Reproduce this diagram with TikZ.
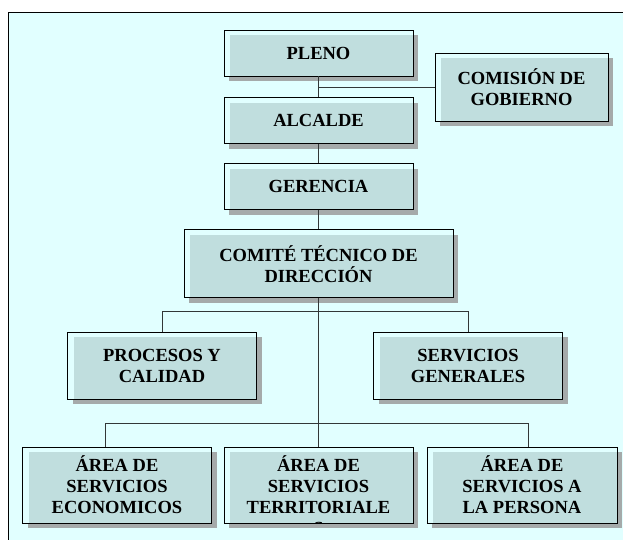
\documentclass[tikz,border=0pt]{standalone}
\usepackage{fontspec}
\setmainfont{Liberation Serif}
\usepackage{tikz}
\usetikzlibrary{positioning}

\definecolor{bgcyan}{RGB}{225,255,255}
\definecolor{boxteal}{RGB}{192,222,222}
\definecolor{shadowgray}{RGB}{165,170,170}
\definecolor{linegray}{RGB}{50,55,55}

\begin{document}
\begin{tikzpicture}
          [x=1pt, y=1pt,
           orgbox/.style={draw=black, line width=0.9pt, fill=bgcyan,
             inner sep=0pt, align=center,
             font=\fontsize{18.5}{21}\selectfont\bfseries,
             minimum width=189pt, minimum height=46pt,
             preaction={fill=shadowgray, transform canvas={xshift=5pt, yshift=-5pt}},
             path picture={\fill[boxteal] ([xshift=6pt, yshift=-5pt]path picture bounding box.north west)
               rectangle (path picture bounding box.south east);}},
           link/.style={draw=linegray, line width=0.9pt}]
          \useasboundingbox (0,0) rectangle (623,540);
          \fill[bgcyan] (8,0) rectangle (623,528);
          \draw[line width=0.9pt] (8,0) -- (8,528) -- (623,528);

          \node (pleno) [orgbox] at (318.5,487) {PLENO};
          \node (alcalde) [orgbox, below = 21pt of pleno] {ALCALDE};
          \node (gerencia) [orgbox, below = 19pt of alcalde] {GERENCIA};
          \node (comite) [orgbox, minimum width=269pt, minimum height=68pt, below = 19pt of gerencia]
            {COMITÉ TÉCNICO DE\\DIRECCIÓN};
          \node (comision) [orgbox, minimum width=173pt, minimum height=68pt] at (521.5,453)
            {COMISIÓN DE\\GOBIERNO};
          \node (procesos) [orgbox, minimum height=67pt] at (162,174.5) {PROCESOS Y\\CALIDAD};
          \node (servgen) [orgbox, minimum height=67pt] at (468,174.5) {SERVICIOS\\GENERALES};
          \node (econ) [orgbox, minimum height=76pt] at (117,55) {ÁREA DE\\SERVICIOS\\ECONOMICOS};
          \node (terr) [orgbox, minimum height=76pt] at (318.5,55) {};
          \node (persona) [orgbox, minimum width=190pt, minimum height=76pt] at (522,55)
            {ÁREA DE\\SERVICIOS A\\LA PERSONA};
          \begin{scope}
            \clip (terr.north west) rectangle (terr.south east);
            \node (terrtext) [align=center, inner sep=0pt, font=\fontsize{18.5}{21}\selectfont\bfseries]
              at ([yshift=-10.5pt]terr.center) {ÁREA DE\\SERVICIOS\\TERRITORIALE\\S};
          \end{scope}

          \path[link] (pleno) -- (alcalde);
          \path[link] (pleno.south |- comision.west) -- (comision.west);
          \path[link] (alcalde) -- (gerencia);
          \path[link] (gerencia) -- (comite);
          \path[link] (comite) -- (terr);
          \path[link] (procesos.north) -- ++(0,20) -| (servgen.north);
          \path[link] ([xshift=-12pt]econ.north) -- ++(0,23) -| ([xshift=6pt]persona.north);
        \end{tikzpicture}
\end{document}
